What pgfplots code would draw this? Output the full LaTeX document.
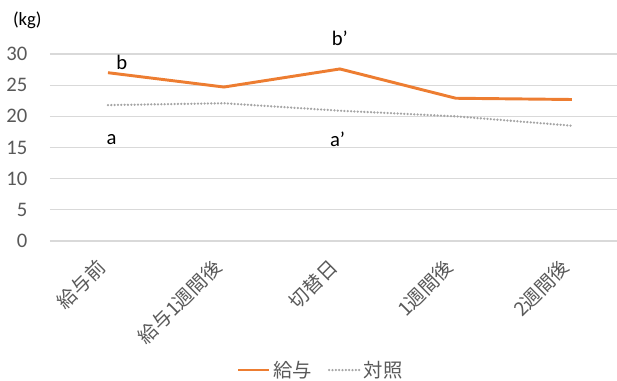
\documentclass[border=0pt]{standalone}
\usepackage{pgfplots}
\pgfplotsset{compat=1.18}
\usepackage{fontspec}
\setmainfont{Carlito}
\newfontfamily\jp{Noto Sans CJK JP}

\definecolor{kyuyo}{HTML}{ED7D31}
\definecolor{taisho}{HTML}{A5A5A5}
\definecolor{gridgray}{HTML}{D9D9D9}
\definecolor{ticktext}{HTML}{595959}

\begin{document}
\begin{tikzpicture}
\useasboundingbox (-37.5pt,-105pt) rectangle (425.25pt,180.75pt);
\begin{axis}[
  at={(0,0)}, anchor=south west,
  scale only axis,
  width=425.25pt, height=140.25pt,
  xmin=-0.5, xmax=4.39,
  ymin=0, ymax=30,
  ytick={0,5,...,30},
  xtick={0,1,2,3,4},
  xticklabels={給与前,給与1週間後,切替日,1週間後,2週間後},
  axis line style={draw=none},
  major tick length=0pt,
  ymajorgrids,
  grid style={gridgray, line width=0.8pt},
  /pgf/number format/assume math mode=true,
  yticklabel style={font=\fontsize{15.5pt}{18pt}\selectfont, text=ticktext, anchor=east, xshift=-13.5pt},
  xticklabel style={font=\jp\fontsize{14.5pt}{17pt}\selectfont, text=ticktext, xshift=-9.5pt, yshift=-7.5pt, rotate=45, anchor=north east},
  clip=false,
  legend style={
    at={(0.478,-0.69)}, anchor=center, draw=none, fill=none,
    legend columns=2,
    font=\jp\fontsize{14.5pt}{17pt}\selectfont, text=ticktext,
    /tikz/every even column/.append style={column sep=10pt},
  },
  legend image code/.code={\draw[#1] (0pt,0pt) -- (23pt,0pt);},
]
\addplot[kyuyo, line width=2.2pt] coordinates {
  (0,27.0) (1,24.7) (2,27.6) (3,22.9) (4,22.7)
};
\addlegendentry{給与}
\addplot[taisho, line width=1.9pt, line cap=round, dash pattern=on 0pt off 2.5pt] coordinates {
  (0,21.8) (1,22.1) (2,20.9) (3,20.0) (4,18.5)
};
\addlegendentry{対照}

\node[font=\fontsize{15.5pt}{18pt}\selectfont] at (axis cs:0.12,28.7) {b};
\node[font=\fontsize{15.5pt}{18pt}\selectfont] at (axis cs:0.03,16.3) {a};
\node[font=\fontsize{15.5pt}{18pt}\selectfont] at (axis cs:2.0,32.6) {b’};
\node[font=\fontsize{15.5pt}{18pt}\selectfont] at (axis cs:1.98,16.3) {a’};
\node[font=\fontsize{14pt}{17pt}\selectfont, text=black] at (rel axis cs:-0.04,1.18) {(kg)};
\end{axis}
\end{tikzpicture}
\end{document}
